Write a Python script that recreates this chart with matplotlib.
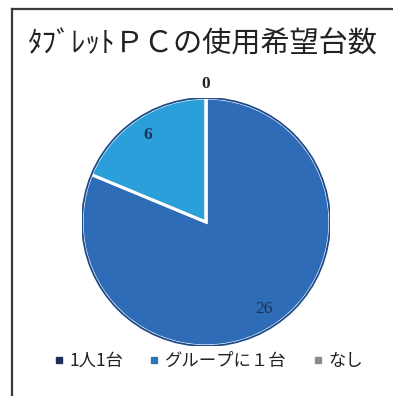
import numpy as np
import matplotlib
matplotlib.use("Agg")
import matplotlib.pyplot as plt
from matplotlib.lines import Line2D

plt.rcParams['font.family'] = ['Noto Sans CJK JP', 'DejaVu Sans']

title = "ﾀﾌﾞﾚｯﾄＰＣの使用希望台数"
labels = ["1人1台", "グループに１台", "なし"]
counts = [26, 6, 0]
pie_colors = ["#2f6cb8", "#2b9fd9", "#a5a5a5"]
legend_colors = ["#1f2f5c", "#2e75b6", "#8c8c8c"]

fig = plt.figure(figsize=(3.93, 3.96), dpi=100)
fig.patch.set_facecolor("white")

# chart border (left and top edges only)
fig.add_artist(Line2D([12 / 393, 12 / 393], [0, 1 - 9 / 396], transform=fig.transFigure,
                      color="#3a3a3a", lw=1.6))
fig.add_artist(Line2D([12 / 393, 1], [1 - 9 / 396, 1 - 9 / 396], transform=fig.transFigure,
                      color="#3a3a3a", lw=1.6))

fig.text(0.515, 1 - 45 / 396, title, ha="center", va="center", fontsize=21, color="#222222")

ax = fig.add_axes([82 / 393, 50 / 396, 248 / 393, 248 / 396])
wedges, _ = ax.pie(counts, colors=pie_colors, startangle=90, counterclock=False,
                   wedgeprops=dict(edgecolor="white", linewidth=2.2))
# dark outline around the circle
ax.add_patch(plt.Circle((0, 0), 1.0, fill=False, edgecolor="#1d4a88", lw=1.3, zorder=5))
ax.set_xlim(-1, 1)
ax.set_ylim(-1, 1)
ax.set_aspect("equal")
ax.axis("off")

for w, n in zip(wedges, counts):
    mid = np.deg2rad((w.theta1 + w.theta2) / 2)
    dist = 0.84 if n > 0 else 1.11
    color = "#1a3355" if n > 0 else "#222222"
    ax.text(dist * np.cos(mid), dist * np.sin(mid), str(n), ha="center", va="center",
            fontsize=12.5, family="Liberation Serif", fontweight="normal" if n > 20 else "bold",
            color=color, clip_on=False)

handles = [Line2D([], [], marker="s", linestyle="none", markersize=4.5,
                  markerfacecolor=c, markeredgecolor=c) for c in legend_colors]
fig.legend(handles, labels, loc="center", bbox_to_anchor=(0.53, 1 - 361 / 396), ncol=3,
           frameon=False, fontsize=12.5, handlelength=0.6, handletextpad=0.3,
           columnspacing=1.5, labelcolor="#222222")

fig.savefig("out.png", dpi=100)
